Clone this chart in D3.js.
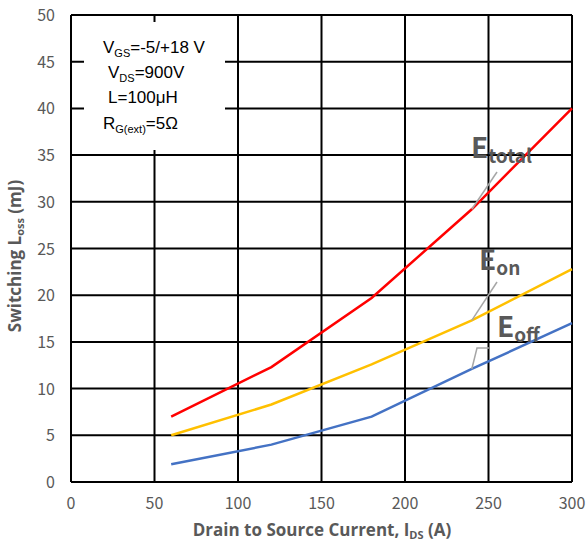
<!DOCTYPE html>
<html><head><meta charset="utf-8">
<script src="https://cdn.jsdelivr.net/npm/d3@7"></script>
<style>body{margin:0;background:#fff}</style>
</head><body>
<svg id="c" width="587" height="549"></svg>
<script>
const current = [60, 120, 180, 240, 300];
const eTotal = [7.0, 12.3, 19.7, 29.2, 40.0];
const eOn = [5.0, 8.3, 12.6, 17.3, 22.8];
const eOff = [1.9, 4.0, 7.0, 12.1, 17.0];
const xTicks = [0, 50, 100, 150, 200, 250, 300];
const yTicks = [0, 5, 10, 15, 20, 25, 30, 35, 40, 45, 50];

const svg = d3.select("#c");
const x = d3.scaleLinear().domain([0, 300]).range([71, 572]);
const y = d3.scaleLinear().domain([0, 50]).range([482, 15]);
const font = "'Noto Sans CJK SC', 'Noto Sans', sans-serif";
const titleFont = "'Open Sans', 'Noto Sans', sans-serif";
const noteFont = "'Liberation Sans', Arial, sans-serif";
const grey = "#595959";

// grid
svg.append("g").selectAll("line").data(yTicks).join("line")
  .attr("x1", x(0)).attr("x2", x(300)).attr("y1", d => y(d)).attr("y2", d => y(d))
  .attr("stroke", "#000").attr("stroke-width", 2);
svg.append("g").selectAll("line").data(xTicks).join("line")
  .attr("y1", y(0)).attr("y2", y(50)).attr("x1", d => x(d)).attr("x2", d => x(d))
  .attr("stroke", "#000").attr("stroke-width", 2);

// annotation box
svg.append("rect").attr("x", 84).attr("y", 22).attr("width", 141).attr("height", 128).attr("fill", "#fff");
const notes = [
  {x: 103, y: 53, parts: [["V",""],["GS","sub"],["=-5/+18 V","back"]]},
  {x: 108, y: 78, parts: [["V",""],["DS","sub"],["=900V","back"]]},
  {x: 108, y: 103, parts: [["L=100μH",""]]},
  {x: 103, y: 129, parts: [["R",""],["G(ext)","sub"],["=5Ω","back"]]}
];
notes.forEach(n => {
  const t = svg.append("text").attr("x", n.x).attr("y", n.y).attr("font-family", noteFont)
    .attr("font-size", 17).attr("fill", "#000");
  n.parts.forEach(p => {
    const ts = t.append("tspan").text(p[0]);
    if (p[1] === "sub") ts.attr("font-size", 11).attr("dy", 4);
    else if (p[1] === "back") ts.attr("dy", -4);
  });
});

// lines
const line = d3.line().x((d, i) => x(current[i])).y(d => y(d));
[[eTotal, "#ff0000"], [eOn, "#ffc000"], [eOff, "#4472c4"]].forEach(([s, c]) => {
  svg.append("path").attr("d", line(s)).attr("fill", "none").attr("stroke", c).attr("stroke-width", 2.5);
});

// leader lines
const lead = "#a6a6a6";
svg.append("polyline").attr("points", `${x(240)},${y(eTotal[3])} 497,172`).attr("stroke", lead).attr("stroke-width", 1.5).attr("fill", "none");
svg.append("polyline").attr("points", `${x(240)},${y(eOn[3])} 497,282`).attr("stroke", lead).attr("stroke-width", 1.5).attr("fill", "none");
svg.append("polyline").attr("points", `${x(240)},${y(eOff[3])} 477,348 489,348`).attr("stroke", lead).attr("stroke-width", 1.5).attr("fill", "none");

// labels
function lbl(xp, yp, sub) {
  const t = svg.append("text").attr("x", xp).attr("y", yp).attr("font-family", font)
    .attr("font-weight", "bold").attr("fill", grey).attr("font-size", 28);
  t.append("tspan").text("E");
  t.append("tspan").text(sub).attr("font-size", 19).attr("dy", 5);
}
lbl(471, 158, "total");
lbl(479, 270, "on");
lbl(497, 337, "off");

// tick labels
svg.append("g").selectAll("text").data(yTicks).join("text")
  .attr("x", 55).attr("y", d => y(d) + 6).attr("text-anchor", "end")
  .attr("font-family", font).attr("font-size", 16).attr("fill", grey).text(d => d);
svg.append("g").selectAll("text").data(xTicks).join("text")
  .attr("x", d => x(d)).attr("y", 509).attr("text-anchor", "middle")
  .attr("font-family", font).attr("font-size", 16).attr("fill", grey).text(d => d);

// axis titles
const xt = svg.append("text").attr("x", 322).attr("y", 536).attr("text-anchor", "middle")
  .attr("font-family", titleFont).attr("font-weight", "bold").attr("font-size", 17).attr("fill", grey);
xt.append("tspan").text("Drain to Source Current, I");
xt.append("tspan").text("DS").attr("font-size", 11).attr("dy", 3);
xt.append("tspan").text(" (A)").attr("dy", -3);
const yt = svg.append("text").attr("transform", "translate(21,256) rotate(-90)").attr("text-anchor", "middle")
  .attr("font-family", titleFont).attr("font-weight", "bold").attr("font-size", 17).attr("fill", grey);
yt.append("tspan").text("Switching L");
yt.append("tspan").text("oss").attr("font-size", 11).attr("dy", 3);
yt.append("tspan").text(" (mJ)").attr("dy", -3);
</script>
</body></html>
